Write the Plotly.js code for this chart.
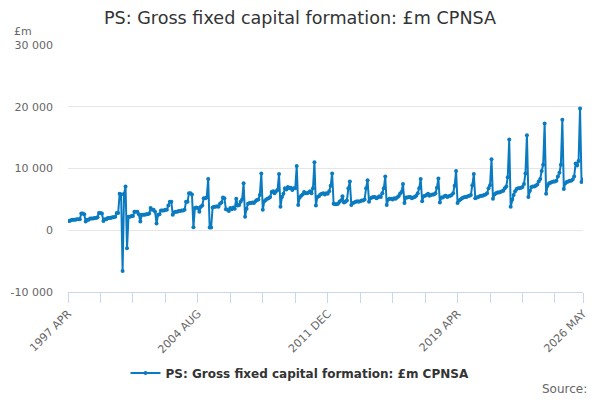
<!DOCTYPE html>
<html>
<head>
<meta charset="utf-8">
<title>PS: Gross fixed capital formation: £m CPNSA</title>
<script src="https://cdn.plot.ly/plotly-3.0.1.min.js"></script>
<style>
  html, body { margin: 0; padding: 0; background: #fff; }
  #chart { width: 600px; height: 400px; }
</style>
</head>
<body>
<div id="chart"></div>
<script>
// Monthly values, £m, April 1997 to May 2026 (fiscal years April to March)
const fy1997to2001 = [
  1500, 1500, 1600, 1700, 1700, 1700, 1800, 1800, 1800, 2700, 2700, 2600,
  1400, 1700, 1700, 1900, 1900, 1900, 2000, 2000, 2100, 2800, 2800, 2700,
  1500, 1800, 1800, 2000, 2000, 2000, 2100, 2100, 2200, 2800, 2800, 5900,
  5800, -6600, 5900, 7100, -2900, 2200, 2200, 2300, 2300, 3000, 3000, 3000,
  2600, 1400, 2500, 2500, 2500, 2600, 2600, 2700, 3600, 3300, 3300, 3000
];
const fy2002to2006 = [
  1100, 2500, 2600, 3200, 3200, 3200, 3300, 3300, 4000, 4600, 4600, 2500,
  2900, 3000, 3000, 3100, 3100, 3200, 3200, 3300, 4600, 4600, 6000, 6000,
  5800, 500, 3600, 3700, 3600, 3000, 3800, 4000, 5200, 5200, 5300, 8300,
  450, 450, 3700, 3800, 3800, 3900, 3800, 4300, 4500, 5300, 5200, 3400,
  3300, 3100, 3600, 3400, 3700, 3500, 5100, 4000, 4100, 4600, 5000, 7600
];
const fy2007to2011 = [
  2200, 3500, 4300, 4400, 4400, 4500, 4400, 4700, 4900, 5000, 5700, 9200,
  3300, 4700, 4900, 5100, 5200, 5400, 6200, 6300, 6000, 6300, 6500, 9100,
  3800, 5400, 5900, 6800, 6600, 7000, 6800, 6900, 6500, 6800, 6800, 10400,
  4100, 5300, 5600, 5800, 6200, 6000, 6000, 6100, 6300, 6000, 6800, 11000,
  4000, 5400, 5500, 5800, 5900, 6000, 5800, 6000, 5900, 6300, 7200, 9200
];
const fy2012to2016 = [
  4300, 4200, 4200, 4300, 4600, 4800, 5500, 4500, 4600, 4800, 6800, 7900,
  4100, 4400, 4500, 4600, 4700, 4600, 4700, 4800, 4800, 5000, 6800, 8100,
  4600, 5200, 5300, 5400, 5400, 5200, 5300, 5500, 5400, 6000, 6800, 8700,
  4100, 5000, 5100, 5100, 5000, 5200, 5100, 5300, 5500, 5900, 6200, 7500,
  4400, 5300, 5300, 5400, 5400, 5200, 5300, 5400, 5600, 6000, 6800, 8300
];
const fy2017to2021 = [
  4700, 5500, 5600, 5700, 5900, 5600, 5700, 5800, 5800, 6000, 6900, 8400,
  4500, 5300, 5300, 5500, 5600, 5400, 5500, 5600, 5700, 6000, 7200, 9600,
  4400, 4800, 5000, 5200, 5300, 5400, 5400, 5500, 5600, 5700, 7300, 9100,
  5200, 5300, 5400, 5500, 5600, 5600, 5700, 5800, 6000, 6800, 7300, 11500,
  5100, 5800, 6000, 6100, 6100, 6200, 6300, 6400, 6800, 7100, 8600, 14700
];
const fy2022to2025 = [
  3800, 5000, 5700, 6300, 6700, 6800, 6800, 6900, 7000, 7500, 9200, 15400,
  5400, 6400, 7000, 7100, 7100, 7200, 7400, 7900, 8300, 9600, 10600, 17300,
  5900, 7200, 7600, 7700, 7800, 7900, 7900, 8000, 8700, 9300, 10600, 17900,
  6700, 7600, 7800, 7900, 8000, 8000, 8200, 8700, 10800, 10500, 11200, 19700
];
const fy2026 = [7800, 8200];

const monthNames = ['JAN', 'FEB', 'MAR', 'APR', 'MAY', 'JUN', 'JUL', 'AUG', 'SEP', 'OCT', 'NOV', 'DEC'];
const startYear = 1997;
const startMonth = 3; // APR
const tickLabels = ['1997 APR', '2004 AUG', '2011 DEC', '2019 APR', '2026 MAY'];
const yTickVals = [-10000, 0, 10000, 20000, 30000];
const yTickText = ['-10 000', '0', '10 000', '20 000', '30 000'];
const seriesName = 'PS: Gross fixed capital formation: £m CPNSA';

const values = [].concat(fy1997to2001, fy2002to2006, fy2007to2011, fy2012to2016, fy2017to2021, fy2022to2025, fy2026);
const months = values.map((_, i) => {
  const m = startMonth + i;
  return `${startYear + Math.floor(m / 12)} ${monthNames[m % 12]}`;
});

// tick marks every 22 months, plus the last month; labels only on some
const tickVals = [];
const tickText = [];
for (let i = 0; i < months.length; i += 22) {
  tickVals.push(months[i]);
  tickText.push(tickLabels.includes(months[i]) ? months[i] : '');
}
const lastMonth = months[months.length - 1];
if (!tickVals.includes(lastMonth)) {
  tickVals.push(lastMonth);
  tickText.push(tickLabels.includes(lastMonth) ? lastMonth : '');
}

const lineColor = '#0b7bc1';

Plotly.newPlot(
  'chart',
  [
    {
      x: months,
      y: values,
      type: 'scatter',
      mode: 'lines+markers',
      name: seriesName,
      line: { color: lineColor, width: 2 },
      marker: { color: lineColor, size: 4 }
    }
  ],
  {
    width: 600,
    height: 400,
    margin: { l: 68, r: 17, t: 45, b: 108 },
    paper_bgcolor: '#ffffff',
    plot_bgcolor: '#ffffff',
    font: { family: 'DejaVu Sans, sans-serif', color: '#666666', size: 11 },
    title: {
      text: seriesName,
      x: 0.5,
      xanchor: 'center',
      y: 1 - 18 / 400,
      yanchor: 'middle',
      font: { size: 17.6, color: '#333333' }
    },
    showlegend: true,
    legend: {
      orientation: 'h',
      xref: 'container',
      yref: 'container',
      x: 0.5,
      xanchor: 'center',
      y: 1 - 373 / 400,
      yanchor: 'middle',
      font: { size: 12, color: '#333333', weight: 'bold' },
      itemwidth: 30
    },
    xaxis: {
      type: 'category',
      range: [0, months.length - 1],
      tickmode: 'array',
      tickvals: tickVals,
      ticktext: tickText,
      tickangle: -45,
      ticks: 'outside',
      ticklen: 10,
      tickcolor: '#ccd6eb',
      showline: true,
      linecolor: '#ccd6eb',
      linewidth: 1,
      showgrid: false,
      zeroline: false,
      tickfont: { size: 11, color: '#666666' }
    },
    yaxis: {
      range: [-10000, 30000],
      tickmode: 'array',
      tickvals: yTickVals,
      ticktext: yTickText,
      showgrid: true,
      gridcolor: '#e6e6e6',
      zeroline: false,
      showline: false,
      ticks: '',
      ticklabelstandoff: 14,
      tickfont: { size: 11, color: '#666666' }
    },
    annotations: [
      {
        text: '£m',
        xref: 'paper', yref: 'paper',
        x: (12 - 68) / 515, y: (291.7 - 31) / 247,
        xanchor: 'left', yanchor: 'middle',
        showarrow: false,
        font: { size: 11, color: '#666666' }
      },
      {
        text: 'Source:',
        xref: 'paper', yref: 'paper',
        x: (589 - 68) / 515, y: (291.7 - 389) / 247,
        xanchor: 'right', yanchor: 'middle',
        showarrow: false,
        font: { size: 12, color: '#666666' }
      }
    ],
    hovermode: false
  },
  { staticPlot: true, displayModeBar: false }
);
</script>
</body>
</html>
